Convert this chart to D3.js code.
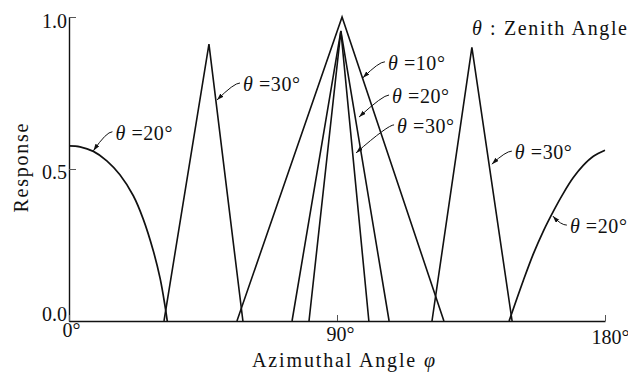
<!DOCTYPE html>
<html>
<head>
<meta charset="utf-8">
<script src="https://cdn.jsdelivr.net/npm/d3@7"></script>
<style>
  body { margin: 0; background: #fff; }
  svg { display: block; }
  text { font-family: 'Liberation Serif', 'Times New Roman', serif; }
</style>
</head>
<body>
<div id="root"></div>
<script>
// values: azimuth phi (deg) -> response
const arc20LeftPhi = [0, 3.7, 8.2, 12.7, 17.1, 21.6, 24.9, 28.3, 30.6, 32.2, 33.0];
const arc20LeftResp = [0.576, 0.573, 0.558, 0.527, 0.481, 0.412, 0.336, 0.231, 0.140, 0.052, 0];
const arc20RightPhi = [147.8, 152.6, 155.9, 159.3, 162.6, 166.0, 169.3, 172.7, 176.1, 180];
const arc20RightResp = [0, 0.134, 0.220, 0.296, 0.360, 0.420, 0.471, 0.512, 0.542, 0.562];

const tri30LeftPhi = [31.9, 47.0, 58.4];
const tri30LeftResp = [0, 0.911, 0];
const tri10Phi = [56.4, 91.7, 125.9];
const tri10Resp = [0, 1.0, 0];
const tri20Phi = [74.9, 91.3, 107.5];
const tri20Resp = [0, 0.954, 0];
const tri30MidPhi = [80.6, 91.3, 100.7];
const tri30MidResp = [0, 0.954, 0];
const tri30RightPhi = [121.9, 135.3, 148.8];
const tri30RightResp = [0, 0.90, 0];

const xTicks = [0, 90, 180];
const xTickLabels = ['0°', '90°', '180°'];
const yTicks = [0, 0.5, 1.0];
const yTickLabels = ['0.0', '0.5', '1.0'];

// annotation labels and the point each arrow touches
const noteLabels = ['=20°', '=30°', '=10°', '=20°', '=30°', '=30°', '=20°'];
const notePhi = [8.2, 49.7, 98.7, 97.4, 96.4, 142.0, 162.5];
const noteResp = [0.56, 0.727, 0.80, 0.671, 0.553, 0.516, 0.345];

const SERIF = "'Liberation Serif', 'Times New Roman', serif";
const FS = 20;
const W = 628, H = 372;
const svg = d3.select('#root').append('svg')
  .attr('width', W)
  .attr('height', H)
  .attr('font-family', SERIF);

const x = d3.scaleLinear().domain([0, 180]).range([69, 605]);
const y = d3.scaleLinear().domain([0, 1]).range([321, 17]);

svg.append('defs').append('marker')
  .attr('id', 'arrow')
  .attr('markerUnits', 'userSpaceOnUse')
  .attr('markerWidth', 9).attr('markerHeight', 6)
  .attr('refX', 7).attr('refY', 2.25)
  .attr('orient', 'auto')
  .append('path')
  .attr('d', 'M0,0L7,2.25L0,4.5z')
  .attr('fill', '#111');

// axes
const yAxis = d3.axisLeft(y)
  .tickValues(yTicks)
  .tickFormat((d, i) => yTickLabels[i])
  .tickSizeInner(-7).tickSizeOuter(0).tickPadding(2);
const gy = svg.append('g').attr('transform', `translate(${x(0)},0)`).call(yAxis);
const yLabelDy = [-1, 9, 10];
gy.selectAll('.tick text').attr('dy', null).attr('y', (d, i) => yLabelDy[i]);

const xAxis = d3.axisBottom(x)
  .tickValues(xTicks)
  .tickFormat((d, i) => xTickLabels[i])
  .tickSizeInner(-6).tickSizeOuter(0).tickPadding(0);
const gx = svg.append('g').attr('transform', `translate(0,${y(0)})`).call(xAxis);
const xLabelDx = [2, 3, 5];
const xLabelY = [16, 20, 23];
gx.selectAll('.tick text')
  .attr('dy', null)
  .attr('x', (d, i) => xLabelDx[i])
  .attr('y', (d, i) => xLabelY[i]);

svg.selectAll('g').attr('font-family', SERIF);
svg.selectAll('.domain').attr('stroke', '#111').attr('stroke-width', 1.4);
svg.selectAll('.tick line').attr('stroke', '#555').attr('stroke-width', 1);
svg.selectAll('.tick text')
  .attr('font-size', FS).attr('fill', '#111');

// curves
const pairs = (p, r) => p.map((v, i) => [v, r[i]]);

const arcs = [pairs(arc20LeftPhi, arc20LeftResp), pairs(arc20RightPhi, arc20RightResp)];
svg.selectAll('path.arc').data(arcs).join('path')
  .attr('class', 'arc')
  .attr('d', d3.line().x(d => x(d[0])).y(d => y(d[1])).curve(d3.curveCatmullRom.alpha(0.5)))
  .attr('fill', 'none').attr('stroke', '#111').attr('stroke-width', 1.7);

const tris = [
  pairs(tri30LeftPhi, tri30LeftResp),
  pairs(tri10Phi, tri10Resp),
  pairs(tri20Phi, tri20Resp),
  pairs(tri30MidPhi, tri30MidResp),
  pairs(tri30RightPhi, tri30RightResp)
];
svg.selectAll('path.tri').data(tris).join('path')
  .attr('class', 'tri')
  .attr('d', d3.line().x(d => x(d[0])).y(d => y(d[1])))
  .attr('fill', 'none').attr('stroke', '#111').attr('stroke-width', 1.6)
  .attr('stroke-linejoin', 'miter');

// annotations: label offset from the arrow tip
const noteDx = [22, 26, 25, 33, 41, 23, 17];
const noteDy = [-11, -9, -8, -14, -20, -5, 17];

const notes = svg.selectAll('g.note').data(noteLabels).join('g').attr('class', 'note');
notes.each(function (lab, i) {
  const g = d3.select(this);
  const tx = x(notePhi[i]), ty = y(noteResp[i]);
  const lx = tx + noteDx[i], ly = ty + noteDy[i];
  g.append('path')
    .attr('d', `M${lx - 3},${ly - 8}Q${lx - 9},${ly - 8} ${tx},${ty}`)
    .attr('fill', 'none').attr('stroke', '#111').attr('stroke-width', 1)
    .attr('marker-end', 'url(#arrow)');
  const t = g.append('text')
    .attr('x', lx).attr('y', ly)
    .attr('font-size', FS).attr('fill', '#111')
    .attr('textLength', 57).attr('lengthAdjust', 'spacing');
  t.append('tspan').attr('font-style', 'italic').text('θ');
  t.append('tspan').text(' ' + lab);
});

// titles
const zen = svg.append('text')
  .attr('x', 472).attr('y', 35)
  .attr('font-size', FS).attr('fill', '#111')
  .attr('textLength', 155).attr('lengthAdjust', 'spacing');
zen.append('tspan').attr('font-style', 'italic').text('θ');
zen.append('tspan').text(' : Zenith Angle');

const xt = svg.append('text')
  .attr('x', 252).attr('y', 367)
  .attr('font-size', FS).attr('fill', '#111')
  .attr('textLength', 183).attr('lengthAdjust', 'spacing');
xt.append('tspan').text('Azimuthal Angle ');
xt.append('tspan').attr('font-style', 'italic').text('φ');

svg.append('text')
  .attr('transform', 'translate(28,168) rotate(-90)')
  .attr('text-anchor', 'middle')
  .attr('font-size', FS).attr('fill', '#111')
  .attr('textLength', 89).attr('lengthAdjust', 'spacing')
  .text('Response');
</script>
</body>
</html>
